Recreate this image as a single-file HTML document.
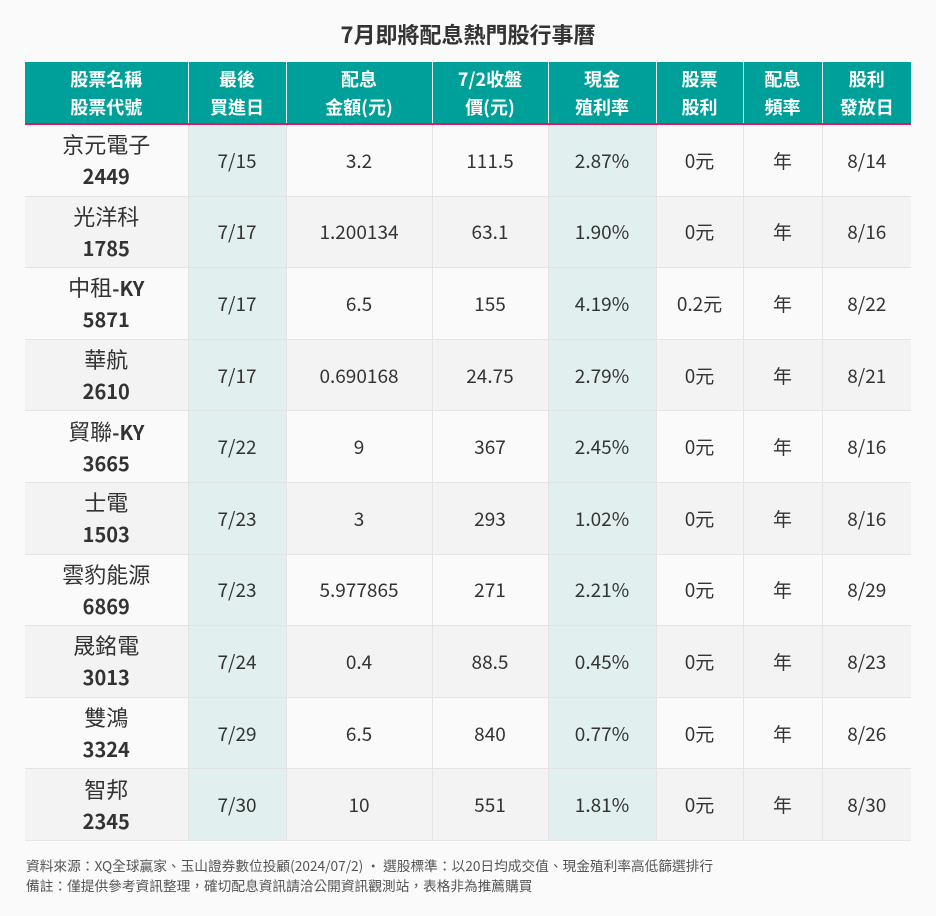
<!DOCTYPE html>
<html><head><meta charset="utf-8"><style>
body{margin:0;width:936px;height:916px;background:#fafafa;font-family:"Liberation Sans","Noto Sans CJK TC",sans-serif;overflow:hidden;position:relative}
.title{position:absolute;top:18px;left:0;width:936px;text-align:center;font-size:22px;font-weight:bold;color:#333;font-family:"Noto Sans CJK TC",sans-serif}
table{position:absolute;left:25px;top:62px;border-collapse:collapse;table-layout:fixed;width:886px}
th{background:#00a09a;color:#fff;font-size:18px;font-weight:bold;line-height:28px;height:61px;padding:0;border-left:1px solid #e8f5f4;border-bottom:2px solid #e0185f;font-family:"Noto Sans CJK TC",sans-serif}
th:first-child{border-left:none}
td{height:70.6px;padding:0;text-align:center;font-size:19px;color:#333;border-left:1px solid #e4e4e4;border-bottom:1px solid #e4e4e4;font-family:"Noto Sans CJK TC",sans-serif}
td:first-child{border-left:none;line-height:31px;font-size:22px}
td:first-child b{font-size:20px}
tr:nth-child(odd) td{background:#fafafa}
tr:nth-child(even) td{background:#f3f3f3}
td.h{background:#e1efee!important}
.foot{position:absolute;left:26px;top:855px;font-size:13.7px;color:#555;line-height:20px;font-family:"Noto Sans CJK TC",sans-serif}
</style></head><body>
<div class="title">7月即將配息熱門股行事曆</div>
<table>
<colgroup><col style="width:163px"><col style="width:98px"><col style="width:146px"><col style="width:116px"><col style="width:108px"><col style="width:87px"><col style="width:79px"><col style="width:89px"></colgroup>
<thead><tr><th>股票名稱<br>股票代號</th><th>最後<br>買進日</th><th>配息<br>金額(元)</th><th>7/2收盤<br>價(元)</th><th>現金<br>殖利率</th><th>股票<br>股利</th><th>配息<br>頻率</th><th>股利<br>發放日</th></tr></thead>
<tbody>
<tr><td>京元電子<br><b>2449</b></td><td class="h">7/15</td><td>3.2</td><td>111.5</td><td class="h">2.87%</td><td>0元</td><td>年</td><td>8/14</td></tr>
<tr><td>光洋科<br><b>1785</b></td><td class="h">7/17</td><td>1.200134</td><td>63.1</td><td class="h">1.90%</td><td>0元</td><td>年</td><td>8/16</td></tr>
<tr><td>中租<b>-KY</b><br><b>5871</b></td><td class="h">7/17</td><td>6.5</td><td>155</td><td class="h">4.19%</td><td>0.2元</td><td>年</td><td>8/22</td></tr>
<tr><td>華航<br><b>2610</b></td><td class="h">7/17</td><td>0.690168</td><td>24.75</td><td class="h">2.79%</td><td>0元</td><td>年</td><td>8/21</td></tr>
<tr><td>貿聯<b>-KY</b><br><b>3665</b></td><td class="h">7/22</td><td>9</td><td>367</td><td class="h">2.45%</td><td>0元</td><td>年</td><td>8/16</td></tr>
<tr><td>士電<br><b>1503</b></td><td class="h">7/23</td><td>3</td><td>293</td><td class="h">1.02%</td><td>0元</td><td>年</td><td>8/16</td></tr>
<tr><td>雲豹能源<br><b>6869</b></td><td class="h">7/23</td><td>5.977865</td><td>271</td><td class="h">2.21%</td><td>0元</td><td>年</td><td>8/29</td></tr>
<tr><td>晟銘電<br><b>3013</b></td><td class="h">7/24</td><td>0.4</td><td>88.5</td><td class="h">0.45%</td><td>0元</td><td>年</td><td>8/23</td></tr>
<tr><td>雙鴻<br><b>3324</b></td><td class="h">7/29</td><td>6.5</td><td>840</td><td class="h">0.77%</td><td>0元</td><td>年</td><td>8/26</td></tr>
<tr><td>智邦<br><b>2345</b></td><td class="h">7/30</td><td>10</td><td>551</td><td class="h">1.81%</td><td>0元</td><td>年</td><td>8/30</td></tr>
</tbody></table>
<div class="foot">資料來源：XQ全球贏家、玉山證券數位投顧(2024/07/2) • 選股標準：以20日均成交值、現金殖利率高低篩選排行<br>備註：僅提供參考資訊整理，確切配息資訊請洽公開資訊觀測站，表格非為推薦購買</div>
</body></html>
